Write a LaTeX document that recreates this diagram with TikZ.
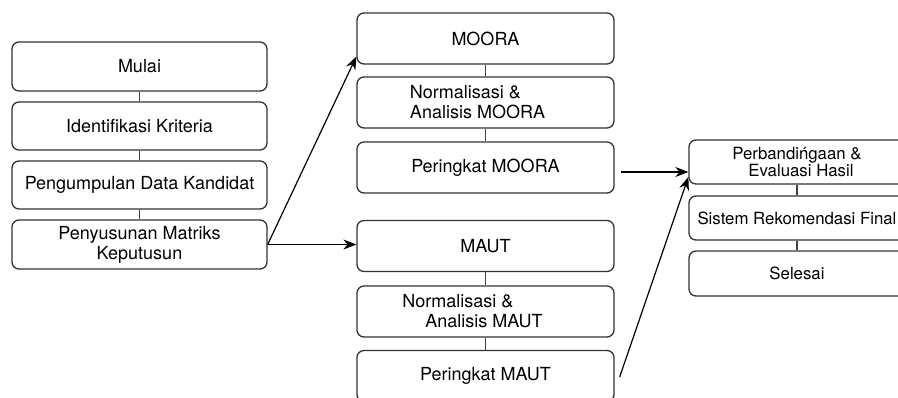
\documentclass[tikz,border=0pt]{standalone}
\usepackage{fontspec}
\setmainfont{TeX Gyre Heros}
\usetikzlibrary{arrows.meta,calc}

\tikzset{
  kotak/.style={draw=black!80, line width=1.3pt, rounded corners=7pt,
    minimum width=255pt, minimum height=48pt, inner sep=1pt,
    align=center, font=\fontsize{18}{20}\selectfont},
  tengah/.style={kotak, minimum width=257pt, minimum height=51pt},
  kanan/.style={kotak, minimum width=216pt, minimum height=44pt,
    font=\fontsize{16.8}{17.5}\selectfont},
  garis/.style={draw=black!75, line width=1.3pt},
  pijar/.style={-{Stealth[length=13pt,width=10pt]}, line width=1.2pt}
}

\begin{document}
\begin{tikzpicture}[x=1pt,y=-1pt]
\path[use as bounding box, clip] (0,0) rectangle (898,397);

% kolom kiri
\node[kotak, minimum height=49pt] (mulai) at (139.5,66.5) {Mulai};
\node[kotak] (identifikasi) at (139.5,126) {Identifikasi Kriteria};
\node[kotak] (pengumpulan) at (139.5,185) {Pengumpulan Data Kandidat};
\node[kotak, minimum height=49pt] (penyusunan) at (139.5,244.5) {Penyusunan Matriks\\Keputusun};

% kolom tengah
\node[tengah] (moora) at (485.5,38.5) {MOORA};
\node[tengah, align=left] (normmoora) at (485.5,102.5) {Normalisasi \&\\Analisis MOORA\hspace*{16pt}};
\node[tengah] (pmoora) at (485.5,167.5) {Peringkat MOORA};
\node[tengah] (maut) at (485.5,246) {MAUT};
\node[tengah, align=left] (normmaut) at (485.5,311.5) {Normalisasi \&\\\hspace*{23pt}Analisis MAUT\hspace*{26pt}};
\node[tengah] (pmaut) at (485.5,376) {Peringkat MAUT};

% kolom kanan
\node[kanan] (banding) at (797,162) {Perbandińgaan \&\\\hspace*{8pt}Evaluasi Hasil};
\node[kanan] (sistem) at (797,218) {Sistem Rekomendasi Final};
\node[kanan, minimum height=45pt] (selesai) at (797,273.5) {Selesai};

\foreach \a/\b in {mulai/identifikasi, identifikasi/pengumpulan, pengumpulan/penyusunan,
    moora/normmoora, normmoora/pmoora, maut/normmaut, normmaut/pmaut,
    banding/sistem, sistem/selesai}
  \draw[garis] (\a) -- (\b);

% panah
\coordinate (masuk) at ([yshift=-10pt]banding.west);
\draw[pijar] (penyusunan.east) -- ([yshift=-18pt]moora.west);
\draw[pijar] (penyusunan.east) -- (penyusunan.east -| maut.west);
\draw[pijar] ($(pmoora.east |- masuk)+(6pt,0)$) -- (masuk);
\draw[pijar] ($(pmaut.east)+(5pt,-1pt)$) -- ([yshift=-15pt]banding.west);
\end{tikzpicture}
\end{document}
